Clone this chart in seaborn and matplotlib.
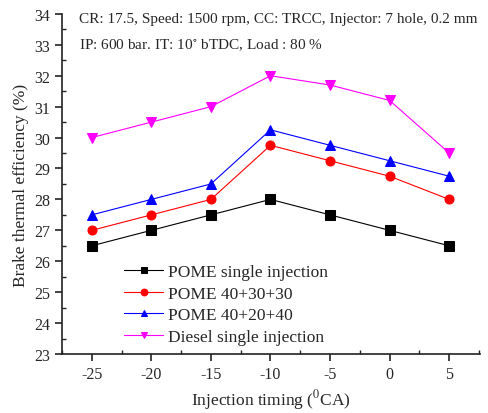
import matplotlib
matplotlib.use("Agg")

import matplotlib.pyplot as plt
import pandas as pd
import seaborn as sns
from matplotlib.ticker import MultipleLocator

timing = [-25, -20, -15, -10, -5, 0, 5]
pome_single = [26.5, 27.0, 27.5, 28.0, 27.5, 27.0, 26.5]
pome_403030 = [27.0, 27.5, 28.0, 29.75, 29.25, 28.75, 28.0]
pome_402040 = [27.5, 28.0, 28.5, 30.25, 29.75, 29.25, 28.75]
diesel_single = [30.0, 30.5, 31.0, 32.0, 31.7, 31.2, 29.5]

series_names = ["POME single injection", "POME 40+30+30", "POME 40+20+40", "Diesel single injection"]
series_values = [pome_single, pome_403030, pome_402040, diesel_single]
colors = ["black", "red", "blue", "#ff00ff"]
markers = ["s", "o", "^", "v"]

df = pd.DataFrame(
    [(n, t, v) for n, vals in zip(series_names, series_values) for t, v in zip(timing, vals)],
    columns=["series", "timing", "bte"],
)

sns.set_style("ticks")
plt.rcParams["font.family"] = ["Liberation Serif", "DejaVu Serif"]
plt.rcParams["mathtext.fontset"] = "stix"
plt.rcParams["axes.unicode_minus"] = False

fig = plt.figure(figsize=(4.88, 4.14), dpi=100)
ax = fig.add_axes([0.127, 0.1425, 0.857, 0.8215])

for name, color, marker in zip(series_names, colors, markers):
    sub = df[df["series"] == name]
    sns.lineplot(
        data=sub, x="timing", y="bte", ax=ax, color=color, marker=marker,
        markersize=6.5, markeredgecolor=color, linewidth=0.8, label=name,
    )

ax.set_xlim(-27.5, 7.6)
ax.set_ylim(23, 34)
ax.xaxis.set_major_locator(MultipleLocator(5))
ax.xaxis.set_minor_locator(MultipleLocator(2.5))
ax.yaxis.set_major_locator(MultipleLocator(1))
ax.yaxis.set_minor_locator(MultipleLocator(0.5))
ax.tick_params(which="major", direction="out", length=5, width=1.2, labelsize=11.5, color="#222222")
ax.tick_params(which="minor", direction="in", length=3, width=1.0, color="#222222")
for s in ["left", "bottom"]:
    ax.spines[s].set_linewidth(1.2)
    ax.spines[s].set_color("#222222")
ax.spines["top"].set_visible(False)
ax.spines["right"].set_visible(False)

ax.set_xlabel("Injection timing ($^{0}$CA)", fontsize=12.5)
ax.set_ylabel("Brake thermal efficiency (%)", fontsize=12.5)

ax.text(0.04, 1.005, "CR: 17.5, Speed: 1500 rpm, CC: TRCC, Injector: 7 hole, 0.2 mm",
        transform=ax.transAxes, fontsize=11, va="top", ha="left")
ax.text(0.04, 0.935, "IP: 600 bar. IT: 10$^{\\circ}$ bTDC, Load : 80 %",
        transform=ax.transAxes, fontsize=11, va="top", ha="left")

leg = ax.legend(loc="lower left", bbox_to_anchor=(0.112, -0.02), frameon=False,
                fontsize=12.5, handlelength=2.2, handletextpad=0.3, labelspacing=0.32,
                markerscale=0.75)

fig.savefig("out.png", dpi=100)
